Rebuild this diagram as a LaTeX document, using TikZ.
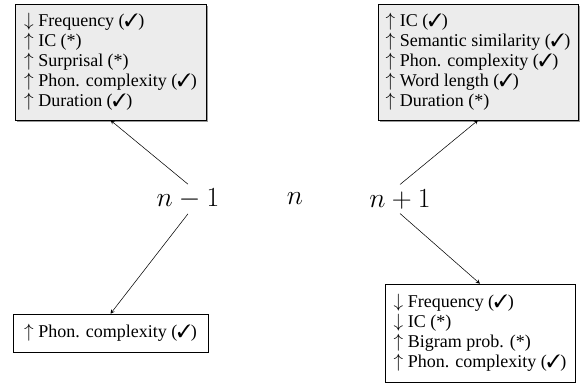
\documentclass[tikz,border=0pt]{standalone}
\usepackage{fontspec}
\setmainfont{Liberation Serif}
\usepackage{pifont}
\usetikzlibrary{shadows}
\usetikzlibrary{positioning}
\usetikzlibrary{calc}

\newcommand{\yes}{(\ding{51})}
\newcommand{\unsure}{(*)}
\newcommand{\incr}{$\uparrow$}
\newcommand{\decr}{$\downarrow$}

\begin{document}
\begin{tikzpicture}[x=0.75pt,y=-0.75pt,>=stealth,
    feat/.style={draw,thin,align=left,inner sep=0pt,font=\fontsize{13.5}{15}\selectfont},
    shaded/.style={fill=gray!15,drop shadow={shadow xshift=1.2pt,shadow yshift=-1.2pt,fill=gray!80,opacity=1}},
    place/.style={font=\fontsize{19.5}{21}\selectfont}]
    \useasboundingbox (0,0) rectangle (580,383);

    % positions in the sentence
    \node [place] (prev) at (188,199) {$n-1$};
    \node [place] (cur)  at (295,199) {$n$};
    \node [place] (next) at (400,199) {$n+1$};

    % what is found before and after
    \node [feat,shaded,minimum width=143.25pt,minimum height=87pt] (prevup) at (110.5,62)
        {\decr{} Frequency \yes\\ \incr{} IC \unsure\\ \incr{} Surprisal \unsure\\
         \incr{} Phon. complexity \yes\\ \incr{} Duration \yes};
    \node [feat,shaded,minimum width=150pt,minimum height=87pt] (nextup) at (478,62)
        {\incr{} IC \yes\\ \incr{} Semantic similarity \yes\\ \incr{} Phon. complexity \yes\\
         \incr{} Word length \yes\\ \incr{} Duration \unsure};
    \node [feat,minimum width=146.25pt,minimum height=28.5pt] (prevdown) at (110.5,333)
        {\incr{} Phon. complexity \yes};
    \node [feat,minimum width=142.5pt,minimum height=73.5pt] (nextdown) at (480,333)
        {\decr{} Frequency \yes\\ \decr{} IC \unsure\\ \incr{} Bigram prob. \unsure\\
         \incr{} Phon. complexity \yes};

    \draw [->] (prev.north) -- (prevup.south);
    \draw [->] (prev.south) -- (prevdown.north);
    \draw [->] (next.north) -- (nextup.south);
    \draw [->] (next.south) -- (nextdown.north);
\end{tikzpicture}
\end{document}
